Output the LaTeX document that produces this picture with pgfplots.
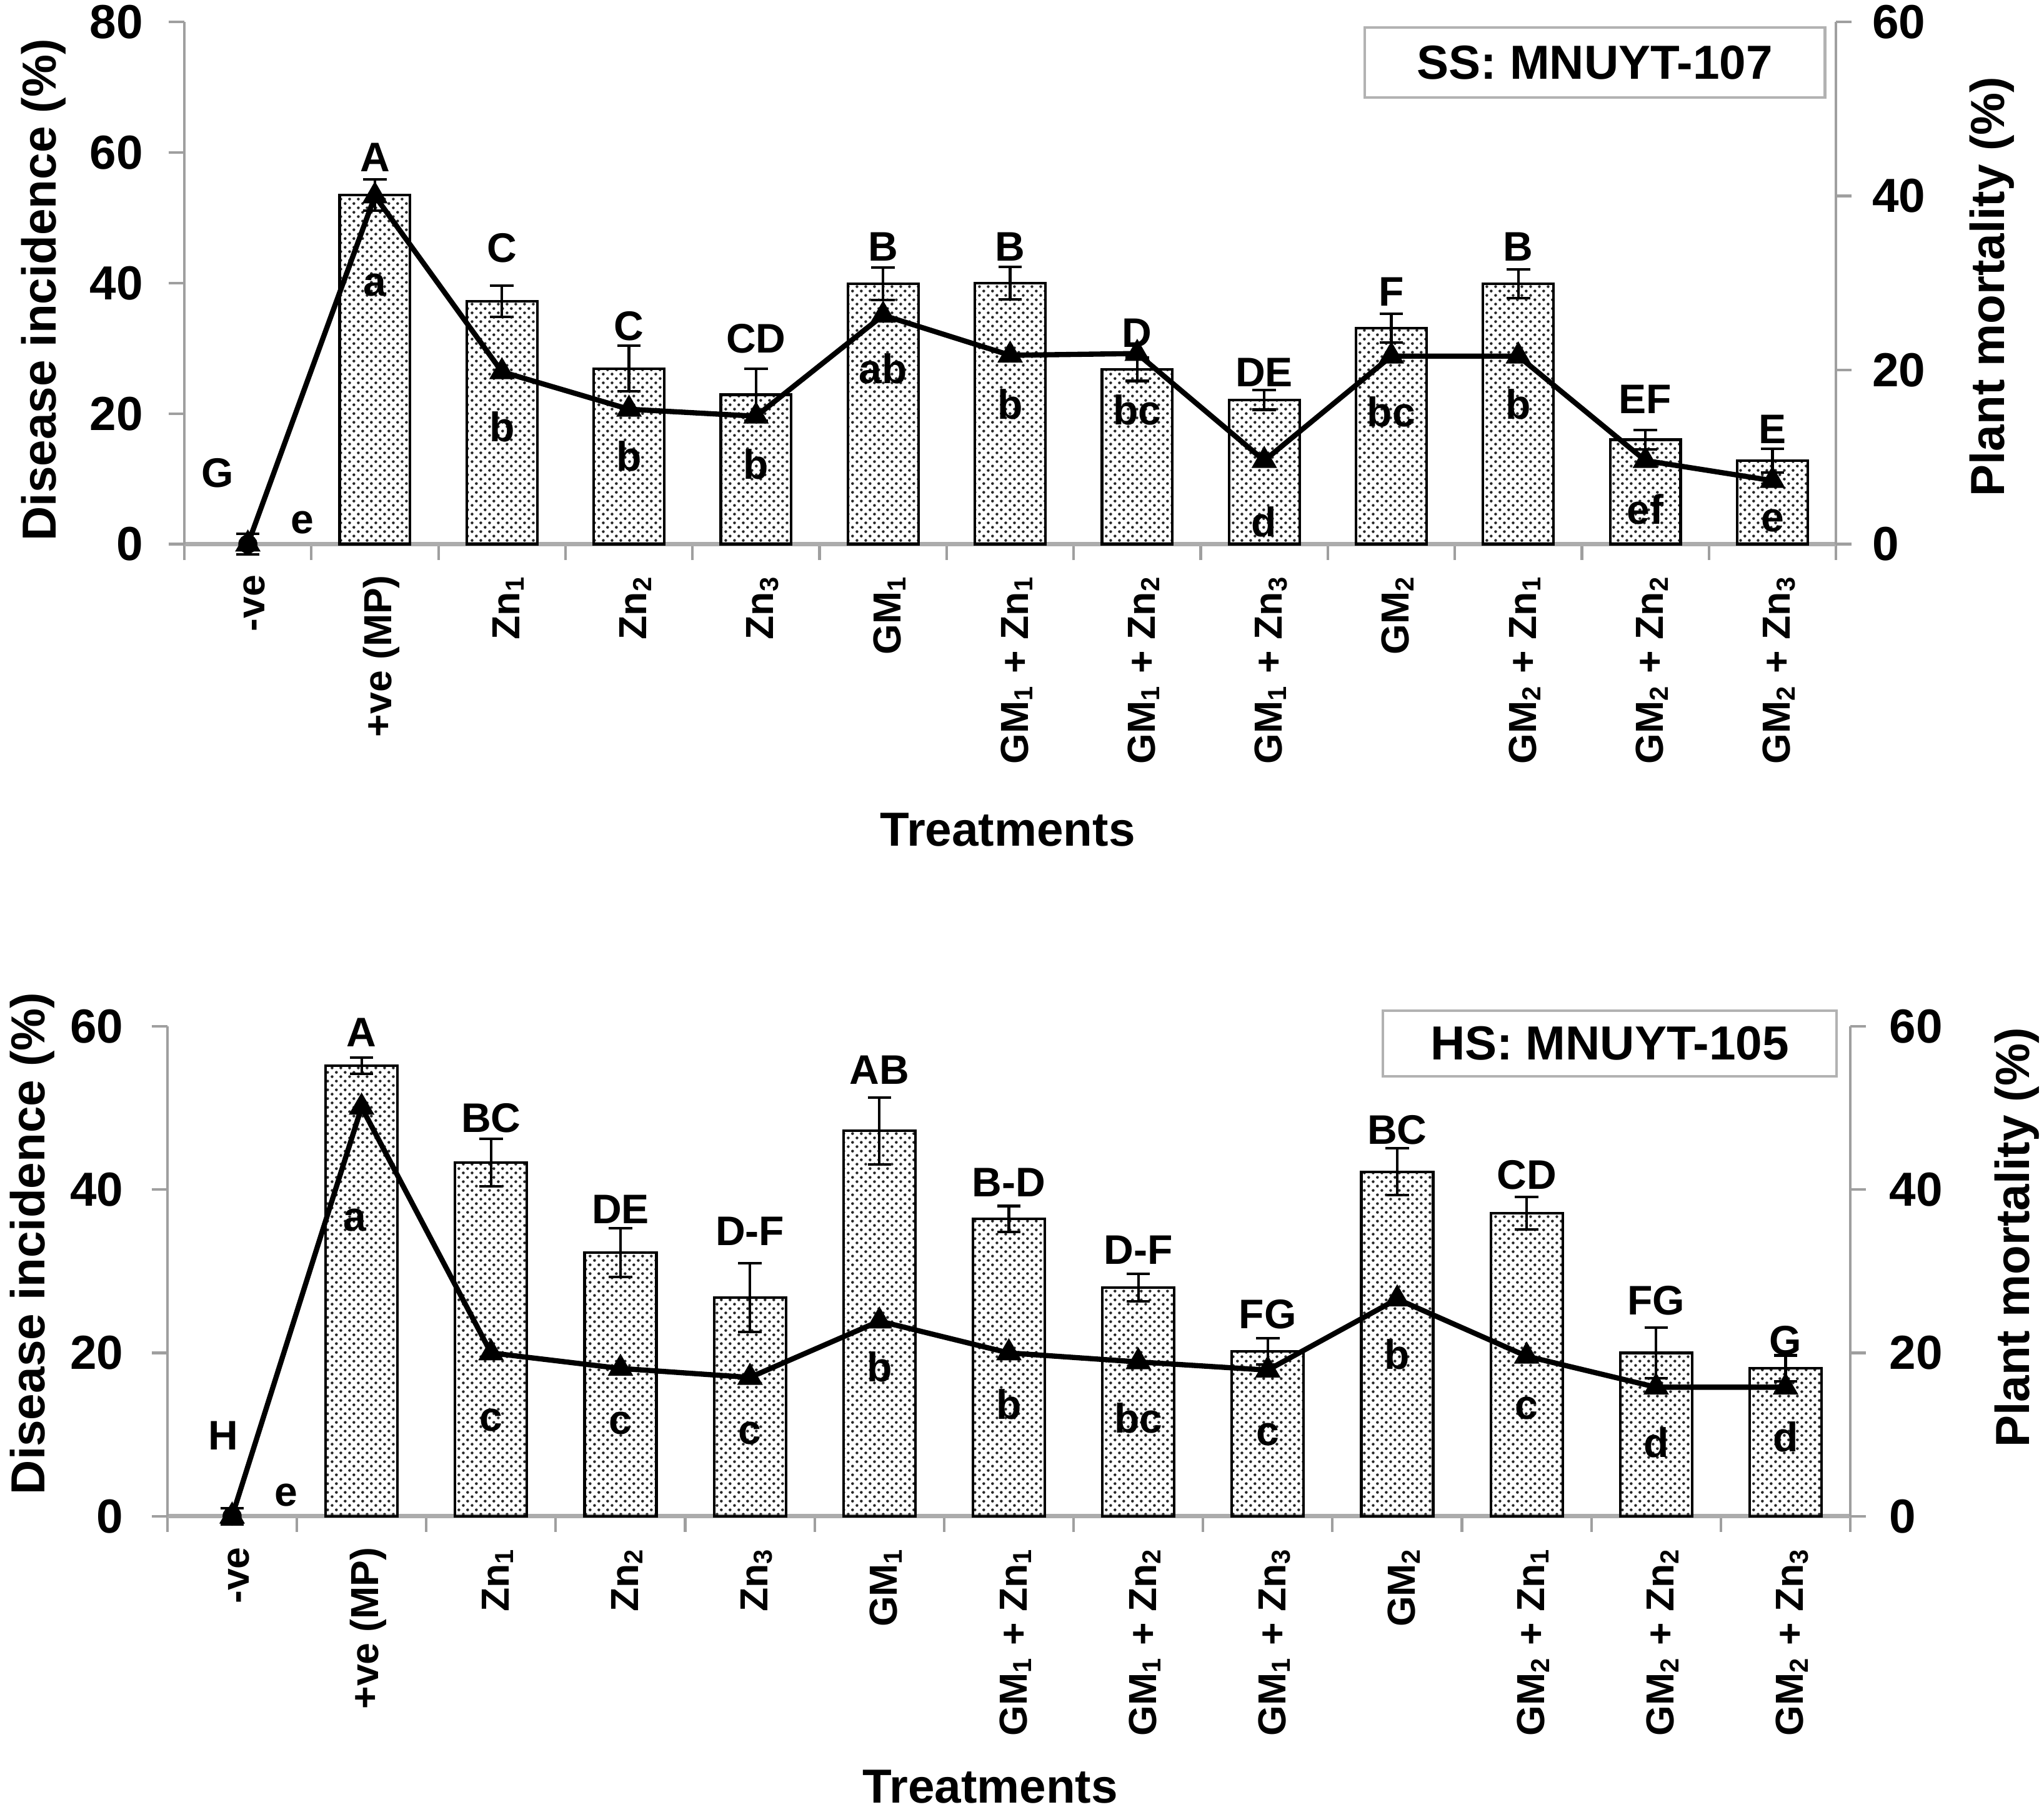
\documentclass[border=0pt]{standalone}
\usepackage{pgfplots}
\pgfplotsset{compat=1.18}
\usepackage{pgfplotstable}
\usetikzlibrary{patterns}
\usepackage{fontspec}
\setmainfont{Liberation Sans}
\pgfdeclarepatternformonly{finedots}{\pgfpointorigin}{\pgfpoint{2pt}{2pt}}{\pgfpoint{2pt}{2pt}}{%
  \pgfpathcircle{\pgfpoint{0.5pt}{0.5pt}}{0.33pt}%
  \pgfpathcircle{\pgfpoint{1.5pt}{1.5pt}}{0.33pt}%
  \pgfusepath{fill}}
\newcommand\labfont{\bfseries\fontsize{11}{13}\selectfont}
\newcommand\xtickfont{\bfseries\fontsize{9}{11}\selectfont}
\newcommand\letfont{\bfseries\fontsize{9.5}{11}\selectfont}

\pgfplotstableread{
x bar err line
0 0 1.6 0
1 53.5 2.4 40
2 37.2 2.4 19.8
3 26.9 3.5 15.5
4 22.9 4.0 14.7
5 39.9 2.5 26.3
6 40 2.5 21.7
7 26.8 1.8 21.9
8 22.1 1.5 9.6
9 33.1 2.2 21.6
10 39.9 2.2 21.6
11 16.0 1.5 9.6
12 12.8 1.8 7.3
}\topdata

\pgfplotstableread{
x y lab
-0.24 10.9 G
0.43 3.3 e
1 59.3 A
1 39.7 a
2 45.4 C
2 18 b
3 33.4 C
3 13.5 b
4 31.5 CD
4 12.2 b
5 45.6 B
5 26.9 ab
6 45.6 B
6 21.4 b
7 32.3 D
7 20.6 bc
8 26.3 DE
8 3.4 d
9 38.7 F
9 20.3 bc
10 45.6 B
10 21.4 b
11 22.2 EF
11 5.3 ef
12 17.6 E
12 3.6 e
}\toplab

\pgfplotstableread{
x bar err line
0 0 1.0 0
1 55.2 1.0 50.1
2 43.3 2.9 20
3 32.3 3.0 18.1
4 26.8 4.2 17
5 47.2 4.1 23.9
6 36.4 1.6 20
7 28 1.7 18.9
8 20.2 1.6 17.9
9 42.2 2.85 26.6
10 37.1 2.0 19.6
11 20 3.1 15.8
12 18.1 1.6 15.8
}\botdata

\pgfplotstableread{
x y lab
-0.068 9.9 H
0.416 2.6 e
1 59.3 A
0.95 36.3 a
2 48.8 BC
2 11.8 c
3 37.6 DE
3 11.4 c
4 34.9 D-F
4 10.2 c
5 54.7 AB
5 18.3 b
6 40.9 B-D
6 13.7 b
7 32.6 D-F
7 12.05 bc
8 24.7 FG
8 10 c
9 47.3 BC
9 19.8 b
10 41.8 CD
10 13.2 c
11 26.4 FG
11 9.0 d
12 21.5 G
12 9.7 d
}\botlab

\pgfplotsset{
  base/.style={
    scale only axis, clip=false,
    xmin=-0.5, xmax=12.5,
    tick align=outside,
    major tick length=3.6pt, minor tick length=3.6pt,
    /pgf/number format/assume math mode=true,
    tick label style={font=\labfont},
    y axis line style={draw=gray!75, line width=0.6pt},
    ytick style={draw=gray!75, line width=0.6pt},
  },
  leftax/.style={
    base,
    axis y line*=left, axis x line*=bottom,
    x axis line style={draw=gray!65, line width=1pt},
    xtick={0,...,12},
    xticklabels={{-ve},{+ve (MP)},{Zn\textsubscript{1}},{Zn\textsubscript{2}},{Zn\textsubscript{3}},{GM\textsubscript{1}},{GM\textsubscript{1} + Zn\textsubscript{1}},{GM\textsubscript{1} + Zn\textsubscript{2}},{GM\textsubscript{1} + Zn\textsubscript{3}},{GM\textsubscript{2}},{GM\textsubscript{2} + Zn\textsubscript{1}},{GM\textsubscript{2} + Zn\textsubscript{2}},{GM\textsubscript{2} + Zn\textsubscript{3}}},
    xticklabel style={font=\xtickfont, rotate=90, anchor=east, yshift=-1.5pt},
    major x tick style={draw=none},
    minor xtick={-0.5,0.5,...,12.5},
    minor x tick style={draw=gray!75, line width=0.6pt},
    xlabel={Treatments}, xlabel style={font=\labfont},
    ylabel={Disease incidence (\%)}, ylabel style={font=\labfont},
  },
  rightax/.style={
    base,
    axis y line*=right, axis x line=none, xtick=\empty,
    ymin=0, ymax=60, ytick={0,20,40,60},
    ylabel={Plant mortality (\%)}, ylabel style={font=\labfont},
  },
  errsty/.style={
    error bars/.cd, y dir=both, y explicit,
    error bar style={black, line width=0.6pt, solid},
    error mark options={rotate=90, mark size=2.7pt, black, line width=0.6pt},
  },
  barsty/.style={
    ybar, bar width=0.555, draw=black, line width=0.6pt,
    pattern=finedots, pattern color=black!85,
    restrict x to domain=0.5:13,
    errsty,
  },
  zerosty/.style={
    only marks, mark=none, black,
    restrict x to domain=-0.2:0.2,
    errsty,
  },
  linesty/.style={
    black, line width=1.2pt, mark=triangle*, mark size=3pt,
    mark options={solid, fill=black, line width=0.4pt},
  },
  labsty/.style={
    only marks, mark=none, nodes near coords, point meta=explicit symbolic,
    every node near coord/.append style={anchor=center, font=\letfont, text=black, inner sep=0pt},
  },
}

\begin{document}
\begin{tikzpicture}
\useasboundingbox (0,0) rectangle (470.4pt,416.8pt);

% ---------- top chart ----------
\begin{axis}[leftax,
  at={(42.42pt,291.6pt)}, anchor=south west,
  width=380.1pt, height=120.15pt,
  ymin=0, ymax=80, ytick={0,20,...,80},
  yticklabel style={xshift=-2.4pt},
  xlabel style={at={(axis description cs:0.4985,-0.547)}, anchor=center},
  ylabel style={at={(axis description cs:-0.0852,0.487)}, anchor=center},
]
\addplot[barsty] table[x=x, y=bar, y error=err] {\topdata};
\addplot[zerosty] table[x=x, y=bar, y error=err] {\topdata};
\addplot[labsty] table[x=x, y=y, meta=lab] {\toplab};
\node[draw=gray!60, line width=0.6pt, minimum width=105.9pt, minimum height=16.1pt, inner sep=0pt, font=\labfont]
  at (axis description cs:0.854,0.9226) {SS: MNUYT-107};
\end{axis}
\begin{axis}[rightax,
  at={(42.42pt,291.6pt)}, anchor=south west,
  width=380.1pt, height=120.15pt,
  yticklabel style={xshift=1.2pt},
  ylabel style={at={(axis description cs:1.0944,0.493)}, anchor=center},
]
\addplot[linesty] table[x=x, y=line] {\topdata};
\end{axis}

% ---------- bottom chart ----------
\begin{axis}[leftax,
  at={(38.52pt,67.95pt)}, anchor=south west,
  width=387.3pt, height=112.7pt,
  ymin=0, ymax=60, ytick={0,20,40,60},
  yticklabel style={xshift=-3pt},
  xlabel style={at={(axis description cs:0.489,-0.552)}, anchor=center},
  ylabel style={at={(axis description cs:-0.0804,0.557)}, anchor=center},
]
\addplot[barsty] table[x=x, y=bar, y error=err] {\botdata};
\addplot[zerosty] table[x=x, y=bar, y error=err] {\botdata};
\addplot[labsty] table[x=x, y=y, meta=lab] {\botlab};
\node[draw=gray!60, line width=0.6pt, minimum width=104.4pt, minimum height=15.1pt, inner sep=0pt, font=\labfont]
  at (axis description cs:0.857,0.9654) {HS: MNUYT-105};
\end{axis}
\begin{axis}[rightax,
  at={(38.52pt,67.95pt)}, anchor=south west,
  width=387.3pt, height=112.7pt,
  yticklabel style={xshift=1.9pt},
  ylabel style={at={(axis description cs:1.0989,0.569)}, anchor=center},
]
\addplot[linesty] table[x=x, y=line] {\botdata};
\end{axis}
\end{tikzpicture}
\end{document}
